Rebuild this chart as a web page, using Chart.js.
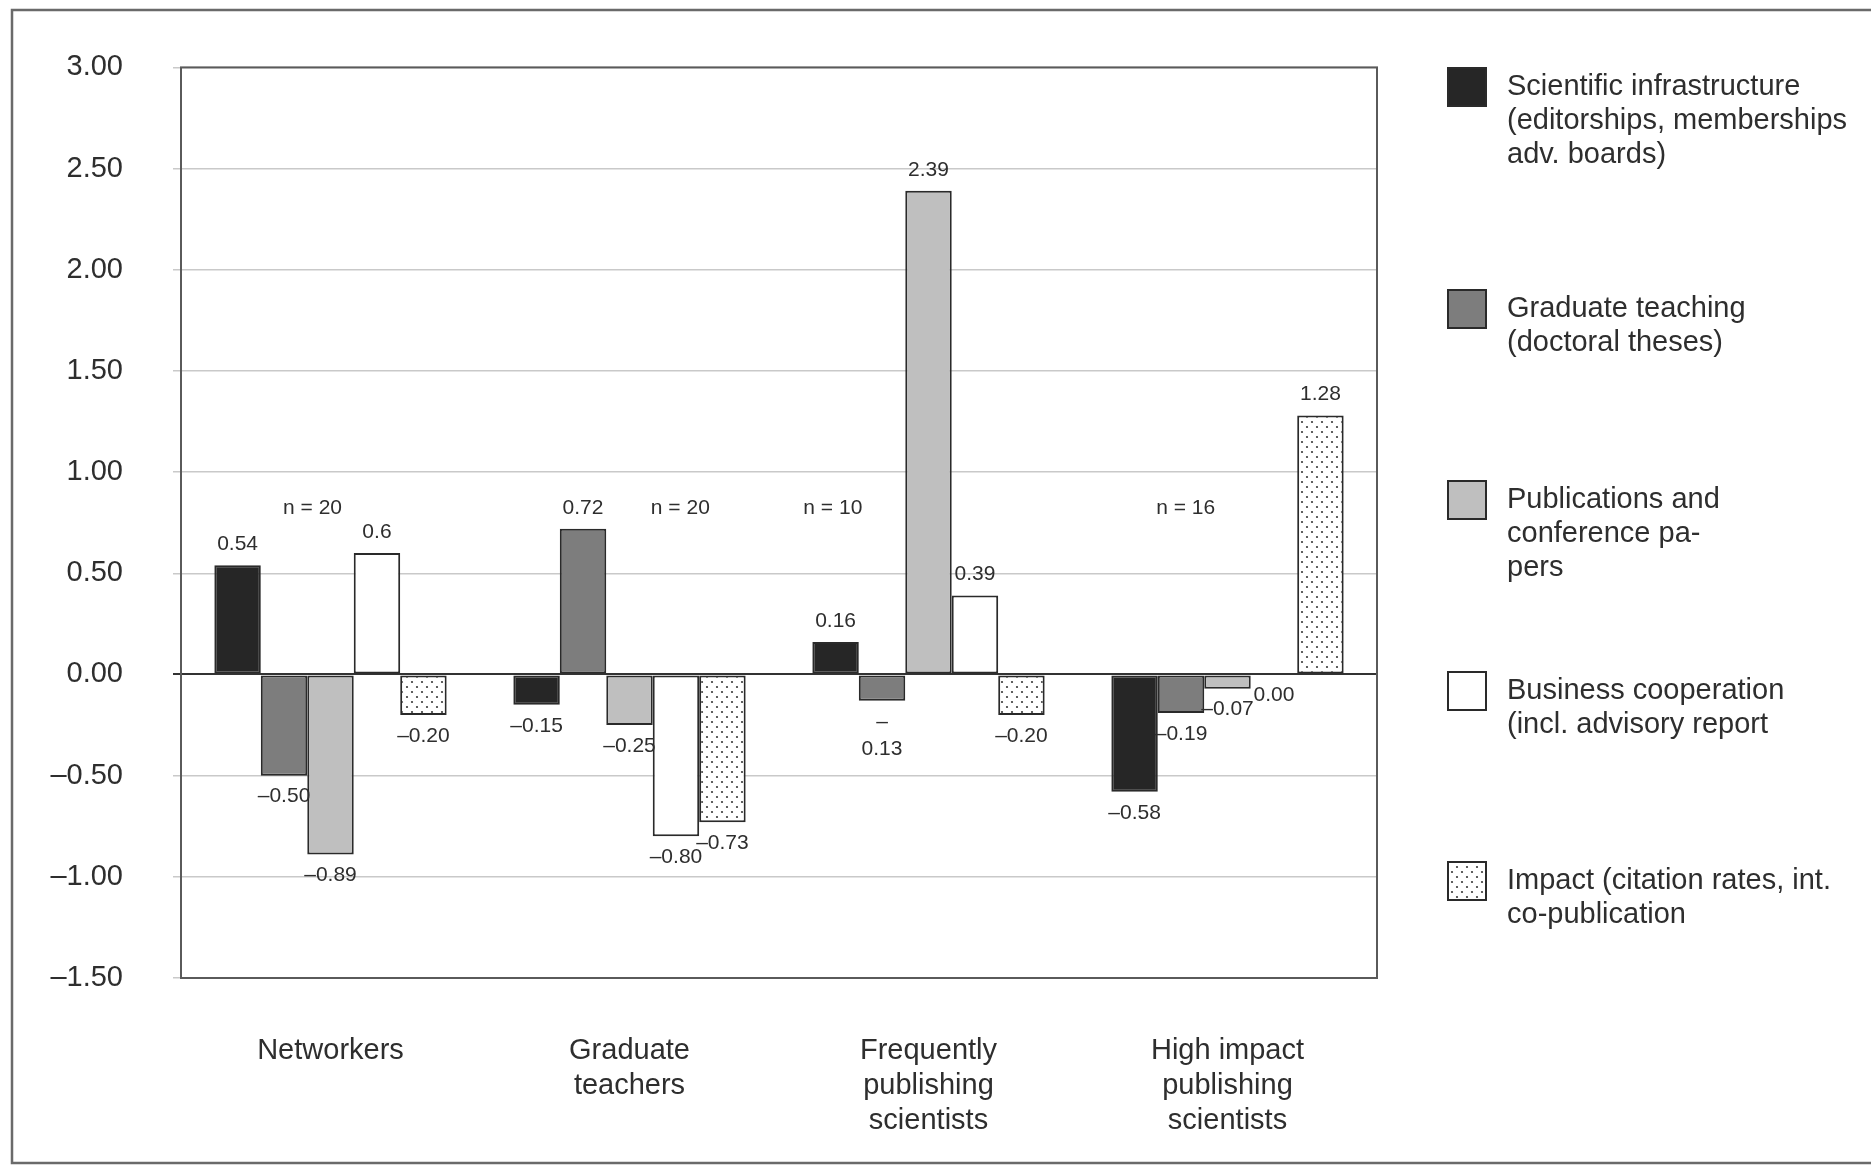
<!DOCTYPE html>
<html>
<head>
<meta charset="utf-8">
<script src="https://cdn.jsdelivr.net/npm/chart.js@4.4.0/dist/chart.umd.min.js"></script>
<style>
  html, body { margin: 0; padding: 0; background: #fff; }
  #wrap { width: 1871px; height: 1168px; }
</style>
</head>
<body>
<div id="wrap"><canvas id="chart" width="1871" height="1168"></canvas></div>
<script>
const categories = [["Networkers"], ["Graduate", "teachers"], ["Frequently", "publishing", "scientists"], ["High impact", "publishing", "scientists"]];
const sampleSizes = ["n = 20", "n = 20", "n = 10", "n = 16"];

const infrastructure = [0.54, -0.15, 0.16, -0.58];
const teaching = [-0.50, 0.72, -0.13, -0.19];
const publications = [-0.89, -0.25, 2.39, -0.07];
const business = [0.6, -0.80, 0.39, 0.00];
const impact = [-0.20, -0.73, -0.20, 1.28];

const infrastructureLabels = ["0.54", "–0.15", "0.16", "–0.58"];
const teachingLabels = ["–0.50", "0.72", "–\n0.13", "–0.19"];
const publicationsLabels = ["–0.89", "–0.25", "2.39", "–0.07"];
const businessLabels = ["0.6", "–0.80", "0.39", "0.00"];
const impactLabels = ["–0.20", "–0.73", "–0.20", "1.28"];

const seriesNames = [
  ["Scientific infrastructure", "(editorships, memberships", "adv. boards)"],
  ["Graduate teaching", "(doctoral theses)"],
  ["Publications and", "conference pa-", "pers"],
  ["Business cooperation", "(incl. advisory report"],
  ["Impact (citation rates, int.", "co-publication"]
];

const yMin = -1.5, yMax = 3, yStep = 0.5;

const FONT = "'Liberation Sans', Arial, sans-serif";
const TEXT = '#2e2e2e';
const EDGE = '#2a2a2a';

function getEl(id) {
  const el = document.getElementById(id);
  if (!el) throw new Error(`Element with id '${id}' not found`);
  return el;
}

const ctx = getEl('chart').getContext('2d');

function dotPattern() {
  const c = document.createElement('canvas');
  c.width = 10; c.height = 10;
  const g = c.getContext('2d');
  g.fillStyle = '#fff';
  g.fillRect(0, 0, 10, 10);
  g.fillStyle = '#3a3a3a';
  [[2, 2], [7, 7]].forEach(([x, y]) => {
    g.beginPath(); g.arc(x, y, 1.1, 0, Math.PI * 2); g.fill();
  });
  return ctx.createPattern(c, 'repeat');
}

const fills = ['#262626', '#7d7d7d', '#bfbfbf', '#ffffff', dotPattern()];
const valueSets = [infrastructure, teaching, publications, business, impact];
const labelSets = [infrastructureLabels, teachingLabels, publicationsLabels, businessLabels, impactLabels];

// layout bits for the hand drawn parts
const legendCenters = [87, 309, 500, 691, 881];
const nShift = [-0.06, 0.17, -0.32, -0.14];

function fmtTick(v) {
  const s = Math.abs(v).toFixed(2);
  return v < 0 ? '–' + s : s;
}

const framePlugin = {
  id: 'frame',
  beforeDraw(chart) {
    const c = chart.ctx;
    c.save();
    c.fillStyle = '#fff';
    c.fillRect(0, 0, chart.width, chart.height);
    c.strokeStyle = '#6a6a6a';
    c.lineWidth = 2.5;
    c.strokeRect(12, 10, chart.width - 10, 1153);
    c.restore();
  },
  afterDatasetsDraw(chart) {
    const c = chart.ctx;
    const a = chart.chartArea;
    c.save();
    // plot box
    c.strokeStyle = '#5a5a5a';
    c.lineWidth = 2;
    c.strokeRect(a.left, a.top, a.right - a.left, a.bottom - a.top);

    // value labels
    c.fillStyle = TEXT;
    c.font = `21px ${FONT}`;
    c.textAlign = 'center';
    c.textBaseline = 'middle';
    chart.data.datasets.forEach((ds, di) => {
      const meta = chart.getDatasetMeta(di);
      meta.data.forEach((bar, i) => {
        const v = ds.data[i];
        const lines = labelSets[di][i].split('\n');
        if (v > 0) {
          c.fillText(lines[0], bar.x, bar.y - 21);
        } else {
          lines.forEach((ln, k) => c.fillText(ln, bar.x, bar.y + 21 + k * 27));
        }
      });
    });

    // n = labels
    const xs = chart.scales.x, ys = chart.scales.y;
    sampleSizes.forEach((t, i) => {
      c.fillText(t, xs.getPixelForValue(i + nShift[i]), ys.getPixelForValue(0.82));
    });

    // legend
    c.textAlign = 'left';
    c.font = `29px ${FONT}`;
    seriesNames.forEach((lines, i) => {
      const cy = legendCenters[i];
      c.fillStyle = fills[i];
      c.fillRect(1448, cy - 19, 38, 38);
      c.strokeStyle = EDGE;
      c.lineWidth = 2;
      c.strokeRect(1448, cy - 19, 38, 38);
      c.fillStyle = TEXT;
      lines.forEach((ln, k) => c.fillText(ln, 1507, cy + k * 34));
    });
    c.restore();
  }
};

new Chart(ctx, {
  type: 'bar',
  data: {
    labels: categories,
    datasets: valueSets.map((vals, i) => ({
      label: seriesNames[i].join(' '),
      data: vals,
      backgroundColor: fills[i],
      borderColor: EDGE,
      borderWidth: 2,
      borderSkipped: false,
      barPercentage: 1,
      categoryPercentage: 0.777
    }))
  },
  options: {
    responsive: false,
    animation: false,
    layout: { padding: { left: 0, right: 494, top: 54, bottom: 0 } },
    plugins: {
      legend: { display: false },
      tooltip: { enabled: false }
    },
    scales: {
      x: {
        grid: { display: false, drawTicks: false },
        border: { display: false },
        ticks: {
          color: TEXT,
          font: { family: FONT, size: 29 },
          padding: 56,
          maxRotation: 0,
          autoSkip: false
        },
        afterFit(scale) { scale.height = 190; }
      },
      y: {
        min: yMin,
        max: yMax,
        ticks: {
          stepSize: yStep,
          color: TEXT,
          font: { family: FONT, size: 29 },
          padding: 50,
          callback: v => fmtTick(v)
        },
        grid: {
          color: c => c.tick && c.tick.value === 0 ? '#333' : '#c9c9c9',
          lineWidth: c => c.tick && c.tick.value === 0 ? 2 : 1.5,
          tickLength: 8
        },
        border: { display: false },
        afterFit(scale) { scale.width = 181; }
      }
    }
  },
  plugins: [framePlugin]
});
</script>
</body>
</html>
